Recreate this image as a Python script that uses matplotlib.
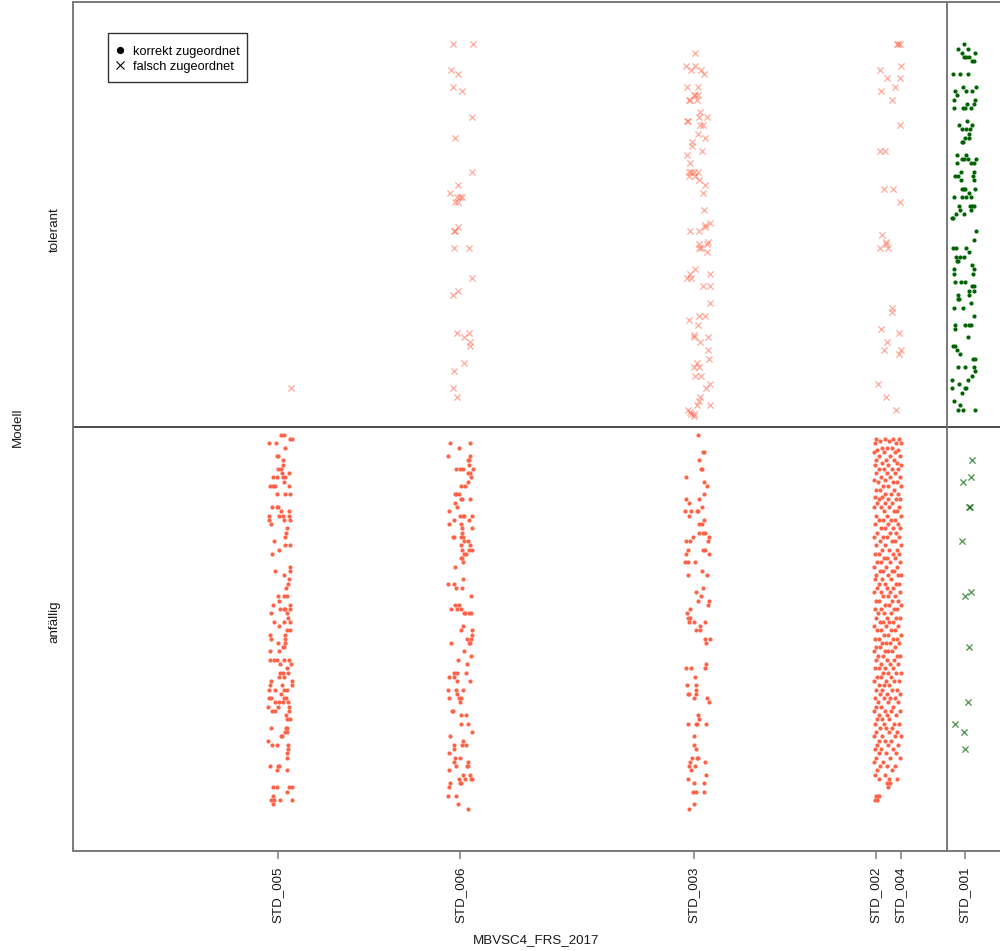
import matplotlib
matplotlib.use("Agg")
import matplotlib.pyplot as plt
from matplotlib.lines import Line2D
from matplotlib.patches import Rectangle

plt.rcParams['font.family'] = ['Liberation Sans', 'DejaVu Sans']

# ---------------- data ----------------
categories = ["STD_005", "STD_006", "STD_003", "STD_002", "STD_004", "STD_001"]
cat_score = [204, 386, 619, 800, 825, 889]          # position of each class on the score axis
threshold = 871                                      # model threshold (vertical line)
classes = ["anfällig", "tolerant"]
legend_labels = ["korrekt zugeordnet", "falsch zugeordnet"]
x_title = "MBVSC4_FRS_2017"
y_title = "Modell"

# jittered observations: (offset from class score, position within band in %)
std005_anf = [(3,98),(6,98),(-9,96),(-2,96),(12,97),(14,97),(7,95),(-1,93),(0,93),(5,92),(5,91),(0,90),(3,90),
    (4,89),(-5,88),(-1,88),(11,89),(5,88),(7,88),(6,87),(11,86),(-8,86),(-5,86),(-3,86),(7,84),(-1,84),(12,84),
    (-6,81),(-1,81),(0,81),(3,80),(5,79),(1,79),(-9,79),(-9,78),(11,80),(11,79),(6,78),(12,78),(-7,77),(9,76),
    (8,75),(7,74),(-4,73),(7,72),(12,72),(-6,70),(1,71),(12,67),(12,66),(-3,66),(6,65),(11,64),(10,63),(8,62),
    (6,60),(0,60),(1,59),(9,60),(-5,58),(12,58),(2,57),(6,57),(7,57),(-7,56),(12,57),(9,56),(10,55),(-4,54),
    (6,54),(1,53),(12,54),(9,52),(12,52),(-8,51),(-7,50),(7,51),(7,50),(0,49),(7,49),(5,48),(6,48),(-8,47),
    (1,47),(6,45),(-4,45),(-1,45),(-8,45),(2,44),(11,45),(13,44),(9,43),(2,42),(5,42),(10,42),(1,41),(6,41),
    (14,40),(14,39),(-7,40),(-8,39),(-3,38),(4,39),(6,38),(9,38),(-9,38),(-7,36),(3,37),(6,36),(8,36),(-9,36),
    (1,35),(-3,35),(0,34),(5,35),(10,35),(11,34),(-10,34),(-6,33),(11,33),(-3,33),(8,32),(9,31),(12,31),(-7,29),
    (9,29),(8,29),(7,28),(9,28),(4,27),(3,27),(-10,26),(-6,25),(-1,25),(10,25),(10,24),(9,23),(9,22),(-8,20),
    (0,20),(1,20),(9,19),(-1,19),(-5,15),(-1,15),(14,15),(11,15),(-5,13),(9,14),(14,12),(-7,12),(-4,12),(2,12),
    (-5,11)]
std005_tol = [(13,9)]

std006_anf = [(-10,96),(10,96),(-1,95),(-12,93),(10,93),(9,92),(8,92),(9,91),(-4,90),(0,90),(3,90),(8,89),
    (13,90),(10,89),(11,88),(8,87),(1,86),(5,86),(-4,84),(-1,84),(-5,84),(1,83),(2,83),(10,83),(-5,82),(-3,81),
    (-11,80),(-6,78),(-11,77),(0,79),(3,79),(4,79),(12,79),(9,78),(1,77),(2,76),(2,75),(12,76),(-7,74),(-6,74),
    (1,74),(3,74),(4,73),(8,73),(1,72),(2,71),(10,72),(12,71),(9,71),(4,70),(6,70),(2,69),(1,69),(3,68),(-5,67),
    (-12,63),(-6,63),(3,64),(2,62),(-4,62),(11,60),(-5,58),(-1,58),(-9,57),(-3,57),(1,57),(4,56),(5,56),(9,56),
    (11,56),(3,53),(1,52),(12,52),(12,51),(7,50),(11,50),(10,49),(9,49),(-9,49),(4,47),(11,46),(-2,45),(7,44),
    (-6,42),(-3,42),(-6,41),(-11,41),(-3,40),(6,42),(10,40),(-12,38),(3,38),(-4,38),(-3,37),(-1,36),(1,36),
    (-11,36),(0,35),(-8,33),(-7,33),(1,32),(6,32),(1,30),(8,30),(12,28),(-10,27),(-6,25),(-6,24),(3,26),(2,25),
    (6,25),(-11,23),(-5,22),(0,22),(-6,21),(-4,20),(8,21),(-11,19),(8,20),(7,20),(3,18),(10,18),(12,17),(11,17),
    (-1,17),(0,16),(5,17),(1,16),(-10,16),(-11,15),(-12,13),(-4,13),(-2,11),(8,10)]
std006_tol = [(-7,90),(13,90),(-9,84),(-2,83),(-7,80),(2,79),(12,73),(-5,68),(12,60),(-2,57),(-10,55),(-3,54),
    (0,54),(2,54),(-5,53),(-2,53),(-2,47),(-5,46),(-6,46),(-6,42),(9,42),(12,35),(-2,32),(-7,31),(-3,22),(4,21),
    (9,22),(10,20),(10,19),(4,15),(-6,13),(-7,9),(-3,7)]

std003_anf = [(4,98),(10,94),(9,94),(5,92),(8,90),(7,90),(-8,88),(10,87),(13,86),(-8,83),(5,83),(10,84),(-5,82),
    (8,81),(3,80),(4,80),(-9,80),(-5,79),(-3,80),(5,77),(8,77),(10,78),(5,75),(9,75),(11,75),(-1,74),(-8,73),
    (-4,73),(14,73),(15,74),(-6,71),(9,71),(11,71),(-8,70),(15,70),(-9,68),(-6,68),(1,68),(8,66),(13,65),(-6,65),
    (2,61),(9,62),(7,60),(4,59),(15,59),(14,58),(-4,57),(-7,56),(-6,55),(-4,55),(11,54),(0,54),(-5,54),(6,53),
    (2,52),(6,52),(11,50),(12,49),(16,50),(12,44),(11,43),(-8,43),(-3,43),(1,41),(-7,39),(2,39),(-5,37),(-6,37),
    (2,38),(2,37),(0,36),(13,36),(15,35),(4,32),(5,31),(2,30),(3,30),(12,30),(-6,30),(0,27),(0,25),(2,24),(-2,22),
    (3,22),(4,22),(-4,21),(-5,20),(1,20),(11,21),(-3,19),(12,18),(-6,17),(0,16),(10,16),(-1,14),(2,14),(10,14),
    (-5,10),(0,11)]
std003_tol = [(1,88),(-8,85),(1,85),(-3,84),(7,84),(10,83),(-7,80),(4,80),(0,78),(1,78),(-5,77),(-4,77),(3,77),
    (4,78),(6,74),(5,73),(13,73),(-6,72),(-7,72),(6,71),(9,71),(4,69),(11,68),(-2,67),(-2,66),(8,65),(-7,64),
    (-4,62),(-5,60),(-3,60),(-5,59),(0,60),(4,60),(1,59),(5,58),(11,57),(9,55),(10,51),(16,48),(11,47),(11,47.5),
    (5,46),(-4,46),(5,43),(13,43),(14,43.5),(7,42),(5,42),(13,41),(1,37),(-4,36),(-7,35),(-3,35),(16,36),(9,33),
    (16,33),(16,29),(5,26),(11,26),(-5,25),(4,24),(0,21),(0,21.5),(6,20),(14,21),(14,18),(15,16),(3,15),(0,14),
    (5,14),(1,12),(7,12),(16,10),(12,9),(6,7),(5,6),(3,5),(16,5),(-6,4),(-3,3),(0,3),(0,2.5),(-4,3.5)]

# STD_002 / STD_004 (offsets relative to STD_002): rows of (band %, offsets)
std002_anf_rows = [
    (97, [0, 9, 17, 23]), (96.5, [4, 13]), (96, [-1, 20, 25]), (95, [6, 11, 16]), (94.5, [1, 22]),
    (94, [-2, 8, 19]), (93, [3, 14, 24]), (92, [0, 10, 18]), (91.5, [6, 21]), (91, [-1, 12, 25]),
    (90, [3, 8, 16, 22]), (89, [0, 11, 19]), (88, [5, 14, 24]), (87.5, [-2, 9]), (87, [2, 17, 21]),
    (86, [7, 12, 25]), (85, [0, 4, 18]), (84, [9, 15, 22]), (83.5, [-1, 6]), (83, [3, 12, 20, 24]),
    (82, [1, 9, 16]), (81, [-2, 5, 13, 23]), (80, [8, 18, 21]), (79, [0, 11, 25]), (78, [3, 7, 15, 19]),
    (77, [-1, 12, 22]), (76, [5, 9, 17, 24]), (75, [1, 14, 20]), (74, [-2, 7, 11, 23]), (73, [4, 16, 19]),
    (72, [0, 9, 25]), (71, [6, 13, 21]), (70, [-1, 3, 17, 23]), (69, [8, 11, 19]), (68, [1, 5, 14, 24]),
    (67, [-2, 10, 21]), (66, [4, 7, 16, 18]), (65, [0, 12, 22, 25]), (64, [-1, 6, 15]), (63, [3, 9, 20, 23]),
    (62, [1, 11, 17]), (61, [-2, 5, 14, 24]), (60, [7, 12, 19]), (59, [0, 3, 16, 22]), (58, [9, 13, 25]),
    (57, [-1, 5, 18, 21]), (56, [2, 8, 15]), (55, [0, 11, 20, 24]), (54, [4, 7, 13, 17]), (53, [-2, 10, 22]),
    (52, [1, 5, 15, 19]), (51, [8, 12, 25]), (50, [-1, 3, 17, 21]), (49, [6, 10, 14, 23]), (48, [0, 4, 19]),
    (47, [-2, 9, 12, 16]), (46, [2, 7, 21, 24]), (45, [0, 11, 18]), (44, [5, 14, 22]), (43, [-1, 3, 9, 17]),
    (42, [7, 12, 20, 25]), (41, [1, 5, 15]), (40, [-2, 10, 18, 23]), (39, [3, 8, 13]), (38, [0, 6, 16, 21]),
    (37, [4, 11, 24]), (36, [-1, 8, 14, 19]), (35, [2, 12, 22]), (34, [0, 5, 17]), (33, [-2, 9, 15, 24]),
    (32, [3, 11, 20]), (31, [1, 6, 13]), (30, [-1, 8, 18, 23]), (29, [4, 10, 16]), (28, [0, 13, 21]),
    (27, [-2, 6, 19, 25]), (26, [3, 9, 15]), (25, [1, 12, 22]), (24, [-1, 5, 17]), (23, [3, 10, 20]),
    (22, [0, 14, 24]), (21, [-2, 7]), (20, [4, 11, 19]), (19, [1, 16]), (18, [-1, 9]), (17, [3, 13, 21]),
    (16, [11, 14]), (15, [12]), (13, [0, 2, 3]), (12, [-1, 1]),
]
std002_tol = [(22,90),(24,90),(21,90),(25,85),(4,84),(11,82),(24,82),(5,79),(19,80),(16,77),(24,71),(4,65),(9,65),
    (8,56),(17,56),(24,53),(6,45),(10,43),(4,42),(12,42),(10,43.5),(16,28),(16,27),(5,23),(23,22),(11,20),(8,18),
    (23,17),(25,18),(2,10),(10,7),(20,4)]

std001_tol = [(-7,89),(-1,90),(3,89),(-3,88),(-1,87),(1,87),(4,87),(10,88),(7,86),(9,86),(-5,83),(-12,83),(3,83),
    (-10,79),(-8,78),(-2,80),(1,79),(7,79),(11,80),(-11,77),(10,77),(9,76),(-2,75),(0,75),(2,76),(6,75),(-11,75),
    (-6,71),(2,72),(-3,70),(1,70),(5,70),(7,71),(4,69),(0,68),(4,68),(-2,67),(-3,67),(-8,64),(-3,63),(1,64),(-1,63),
    (3,63),(6,62),(-8,62),(9,62),(11,63),(-4,60),(-10,59),(-7,59),(9,60),(8,59),(-4,58),(9,58),(-1,56),(-3,56),
    (0,56),(4,55),(10,56),(1,54),(-11,54),(-3,54),(6,54),(-6,52),(-5,51),(5,52),(7,52),(9,52),(6,51),(-1,50),
    (-9,50),(-12,49),(-13,49),(11,46),(9,44),(-9,42),(-12,42),(1,42),(-5,40),(-1,40),(4,41),(-9,40),(-8,39),(-7,39),
    (-11,37),(7,38),(9,37),(-11,36),(8,36),(-10,34),(-4,34),(0,34),(7,33),(9,33),(4,32),(9,32),(4,31),(-7,31),
    (-6,30),(-7,30),(-11,28),(-2,28),(6,29),(-10,24),(-10,23),(0,24),(4,24),(6,24),(9,26),(3,21),(-12,19),(-10,19),
    (-8,18),(-5,17),(8,16),(10,16),(-7,14),(0,14),(9,14),(10,13),(-13,11),(-6,10),(3,11),(7,12),(-13,9),(-3,8),
    (0,9),(1,9),(-11,6),(-7,4),(-5,5),(-2,4),(10,4)]
std001_anf = [(7,92),(-2,87),(6,88),(4,81),(5,81),(-3,73),(0,60),(6,61),(4,48),(3,35),(-10,30),(-1,28),(0,24)]

# ---------------- helpers ----------------
score = dict(zip(categories, cat_score))

def to_xy(points, cat, band):
    xs = [score[cat] + dx for dx, v in points]
    ys = [band + v / 100.0 for dx, v in points]
    return xs, ys

std002_anf = [(dx, v) for v, dxs in std002_anf_rows for dx in dxs]

RED = "#FF6347"
GREEN = "#006400"

fig = plt.figure(figsize=(10, 9.51), dpi=100)
ax = fig.add_axes([0.073, 1 - 851 / 951, 0.930, 849 / 951])
ax.set_xlim(0, 927)
ax.set_ylim(0, 2)

dot_kw = dict(s=9, marker="o", linewidths=0, zorder=3)
cross_kw = dict(s=20, marker="x", linewidths=0.9, zorder=4)

# correctly classified (dots)
for pts, cat, band, col in [(std005_anf, "STD_005", 0, RED), (std006_anf, "STD_006", 0, RED),
                            (std003_anf, "STD_003", 0, RED), (std002_anf, "STD_002", 0, RED),
                            (std001_tol, "STD_001", 1, GREEN)]:
    x, y = to_xy(pts, cat, band)
    ax.scatter(x, y, color=col, **dot_kw)

# misclassified (crosses)
for pts, cat, band, col, a in [(std005_tol, "STD_005", 1, RED, 0.55), (std006_tol, "STD_006", 1, RED, 0.55),
                               (std003_tol, "STD_003", 1, RED, 0.55), (std002_tol, "STD_002", 1, RED, 0.55),
                               (std001_anf, "STD_001", 0, GREEN, 0.7)]:
    x, y = to_xy(pts, cat, band)
    ax.scatter(x, y, color=col, alpha=a, **cross_kw)

# separators
ax.axhline(1, color="#1a1a1a", lw=1.1, zorder=2)
ax.axvline(threshold, color="#6e6e6e", lw=1.3, zorder=2)

# spines
for side in ["left", "top", "bottom"]:
    ax.spines[side].set_color("#7a7a7a")
    ax.spines[side].set_linewidth(1.4)
ax.spines["right"].set_visible(False)

# axes ticks
ax.set_xticks(cat_score)
ax.set_xticklabels(categories, rotation=90, fontsize=9.6, color="#1a1a1a")
ax.tick_params(axis="x", length=6, width=1.1, color="#7a7a7a", pad=5)
ax.set_yticks([0.539, 1.463])
ax.set_yticklabels(classes, rotation=90, va="center", fontsize=9.6, color="#1a1a1a")
ax.tick_params(axis="y", length=0, pad=9)

fig.text(0.5365, 1 - 940 / 951, x_title, ha="center", va="center", fontsize=9.6, color="#1a1a1a")
fig.text(0.018, 1 - 427 / 951, y_title, ha="center", va="center", rotation=90, fontsize=9.6, color="#1a1a1a")

# legend (frame drawn separately)
ax.add_patch(Rectangle(((108 - 73) / 930, 1 - 80 / 849), 139 / 930, 49 / 849, transform=ax.transAxes,
                       facecolor="white", edgecolor="#333333", lw=1.0, zorder=6))
handles = [Line2D([], [], marker="o", color="black", linestyle="none", markersize=4.2),
           Line2D([], [], marker="x", color="black", linestyle="none", markersize=5.5, markeredgewidth=0.8)]
leg = ax.legend(handles, legend_labels, loc="center left",
                bbox_to_anchor=((116 - 73) / 930, 1 - 57 / 849), borderaxespad=0,
                frameon=False, fontsize=9.2, handlelength=0.7, handletextpad=0.6, borderpad=0,
                labelspacing=0.15, handleheight=1.1)
leg.set_zorder(7)

fig.savefig("out.png", dpi=100)
